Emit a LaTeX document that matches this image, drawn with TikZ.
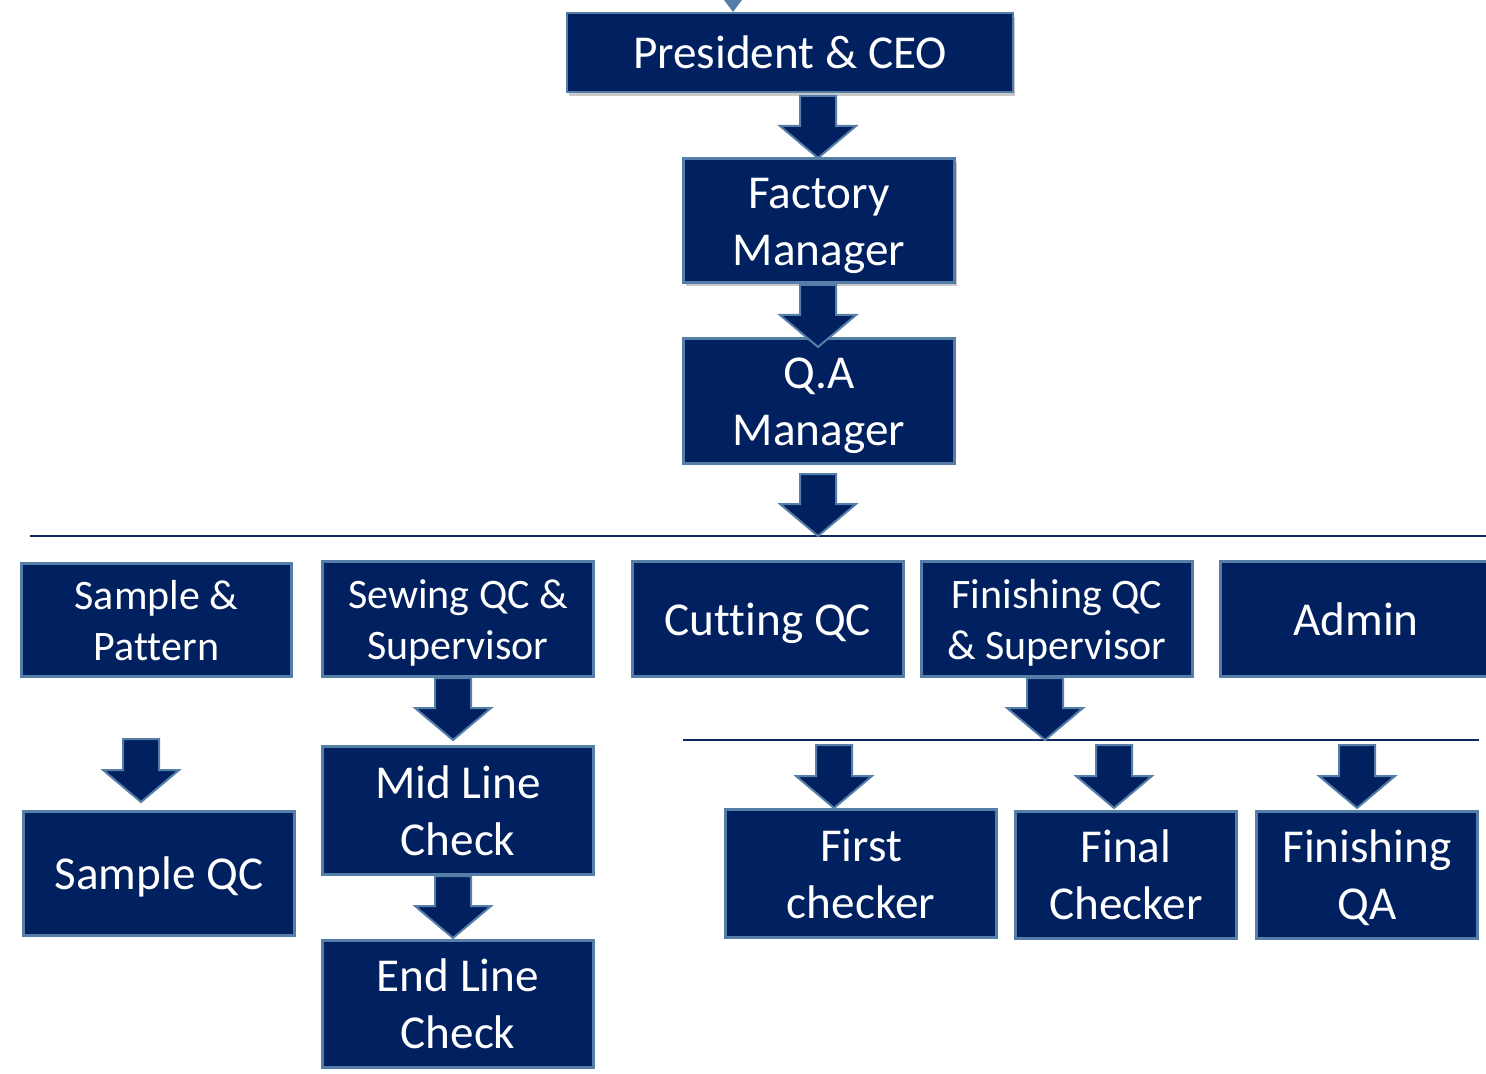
\documentclass[tikz,border=0pt]{standalone}
\usepackage{fontspec}
\setmainfont{Carlito}[Ligatures=NoCommon]
\usetikzlibrary{calc,shadows}
\definecolor{navy}{RGB}{0,32,96}
\definecolor{bord}{RGB}{84,126,168}
\definecolor{linec}{RGB}{16,40,96}
\tikzset{
  box/.style={draw=bord, fill=navy, line width=1.4pt, text=white, inner sep=0pt},
  big/.style={font=\fontsize{23.6}{28.5}\selectfont},
  small/.style={font=\fontsize{21}{25.5}\selectfont},
  shad/.style={drop shadow={opacity=0.3, shadow xshift=1.2pt, shadow yshift=-1.8pt, fill=black!70}},
  arr/.style={draw=bord, fill=navy, line width=1pt, line join=miter},
  hline/.style={draw=linec, line width=0.9pt}
}
\newcommand\T[1]{\raisebox{-2.5pt}[\height][\depth]{\begin{tabular}{@{}c@{}}#1\end{tabular}}}
\newcommand\BArrow[2]{\path[arr] let \p1=(#1), \p2=(#2) in
  (\x2-9pt,\y1) -- (\x2+9pt,\y1) -- (\x2+9pt,\y2+16pt) -- (\x2+19pt,\y2+16pt)
  -- (\x2,\y2) -- (\x2-19pt,\y2+16pt) -- (\x2-9pt,\y2+16pt) -- cycle;}
\begin{document}
\begin{tikzpicture}[x=0.5pt,y=-0.5pt]
\useasboundingbox (0,0) rectangle (1486,1074);
% partial arrow tip at the top
\fill[bord] (724,0) -- (742,0) -- (733,12) -- cycle;
% nodes
\node[box,big,shad,minimum width=223pt,minimum height=39.5pt] (pres) at (790,52.5) {\T{President \& CEO}};
\node[box,big,shad,minimum width=135.5pt,minimum height=62pt] (fm) at (819,220.5) {\T{Factory\\Manager}};
\node[box,big,minimum width=135.5pt,minimum height=62.5pt] (qa) at (819,401) {\T{Q.A\\Manager}};
\node[box,small,minimum width=135pt,minimum height=56.5pt] (sp) at (156.5,620) {\T{Sample \&\\Pattern}};
\node[box,small,minimum width=135.5pt,minimum height=57.5pt] (sew) at (458,619) {\T{Sewing QC \&\\Supervisor}};
\node[box,big,minimum width=135.5pt,minimum height=57.5pt] (cut) at (768,619) {\T{Cutting QC}};
\node[box,small,minimum width=135.5pt,minimum height=57.5pt] (fin) at (1057,619) {\T{Finishing QC\\\& Supervisor}};
\node[box,big,minimum width=135.5pt,minimum height=57.5pt] (adm) at (1356,619) {\T{Admin}};
\node[box,big,minimum width=135.5pt,minimum height=62pt] (sqc) at (159,873.5) {\T{Sample QC}};
\node[box,big,minimum width=135.5pt,minimum height=64pt] (mid) at (458,810.5) {\T{Mid Line\\Check}};
\node[box,big,minimum width=135.5pt,minimum height=63.5pt] (endl) at (458,1004) {\T{End Line\\Check}};
\node[box,big,minimum width=135.5pt,minimum height=64pt] (first) at (861,873.5) {\T{First\\checker}};
\node[box,big,minimum width=110.5pt,minimum height=63.5pt] (final) at (1126,875) {\T{Final\\Checker}};
\node[box,big,minimum width=110.5pt,minimum height=63.5pt] (fqa) at (1367,875) {\T{Finishing\\QA}};
% horizontal lines
\coordinate (l1a) at (30,536); \coordinate (l1b) at (1486,536);
\coordinate (l2a) at (683,740); \coordinate (l2b) at (1479,740);
\draw[hline] (l1a) -- (l1b);
\draw[hline] (l2a) -- (l2b);
% arrow end points
\coordinate (a1t) at (818,96);  \coordinate (a1h) at (818,158);
\coordinate (a2t) at (818,285); \coordinate (a2h) at (818,347);
\coordinate (a3t) at (818,474); \coordinate (a3h) at (818,536);
\coordinate (a4t) at (453,678); \coordinate (a4h) at (453,740);
\coordinate (a5t) at (141,739); \coordinate (a5h) at (141,802);
\coordinate (a6t) at (453,876); \coordinate (a6h) at (453,938);
\coordinate (a7t) at (1045,678); \coordinate (a7h) at (1045,740);
\coordinate (a8t) at (834,745); \coordinate (a8h) at (834,808);
\coordinate (a9t) at (1114,745); \coordinate (a9h) at (1114,808);
\coordinate (a10t) at (1357,745); \coordinate (a10h) at (1357,808);
\BArrow{a1t}{a1h}
\BArrow{a2t}{a2h}
\BArrow{a3t}{a3h}
\BArrow{a4t}{a4h}
\BArrow{a5t}{a5h}
\BArrow{a6t}{a6h}
\BArrow{a7t}{a7h}
\BArrow{a8t}{a8h}
\BArrow{a9t}{a9h}
\BArrow{a10t}{a10h}
\end{tikzpicture}
\end{document}
